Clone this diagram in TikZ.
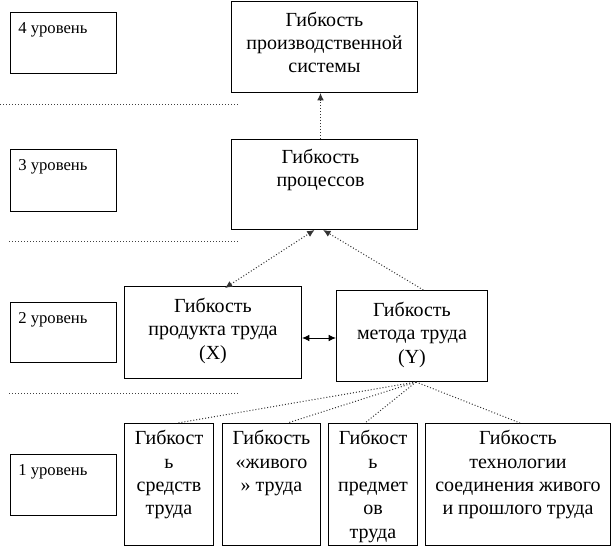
\documentclass[tikz,border=0pt]{standalone}
\usepackage{fontspec}
\setmainfont{Liberation Serif}
\usetikzlibrary{arrows.meta}
\begin{document}
\begin{tikzpicture}[x=0.75pt,y=-0.75pt,
  box/.style={draw, line width=0.75pt, anchor=north west, inner sep=0pt},
  txt/.style={anchor=north, inner sep=0pt, align=center, font=\fontsize{15}{17.5}\selectfont},
  lvltxt/.style={anchor=north west, inner sep=0pt, font=\fontsize{12.5}{14}\selectfont},
  dotline/.style={line width=0.75pt, black!75, dash pattern=on 0.75pt off 1.5pt},
  conn/.style={line width=0.75pt, black!80, dash pattern=on 0.75pt off 1.5pt},
  tip/.style={-{Latex[length=5.5pt,width=5pt]}},
  bitip/.style={{Latex[length=5.5pt,width=5pt]}-{Latex[length=5.5pt,width=5pt]}}
]
\useasboundingbox (0,0) rectangle (611,546);

% level boxes
\node[box, minimum width=106*0.75pt, minimum height=61*0.75pt] (L4) at (10,12) {};
\node[box, minimum width=106*0.75pt, minimum height=62*0.75pt] (L3) at (10,149) {};
\node[box, minimum width=106*0.75pt, minimum height=60*0.75pt] (L2) at (10,302) {};
\node[box, minimum width=106*0.75pt, minimum height=61*0.75pt] (L1) at (10,454) {};
\node[lvltxt] (L4t) at ([xshift=6pt,yshift=-7.5pt]L4.north west) {4 уровень};
\node[lvltxt] (L3t) at ([xshift=6pt,yshift=-8pt]L3.north west) {3 уровень};
\node[lvltxt] (L2t) at ([xshift=6pt,yshift=-8pt]L2.north west) {2 уровень};
\node[lvltxt] (L1t) at ([xshift=6pt,yshift=-8pt]L1.north west) {1 уровень};

% separators
\coordinate (d1a) at (0,104);   \coordinate (d1b) at (238,104);
\coordinate (d2a) at (9,241);   \coordinate (d2b) at (238,241);
\coordinate (d3a) at (9,393);   \coordinate (d3b) at (240,393);
\draw[dotline] (d1a) -- (d1b);
\draw[dotline] (d2a) -- (d2b);
\draw[dotline] (d3a) -- (d3b);

% main boxes
\node[box, minimum width=186*0.75pt, minimum height=91*0.75pt] (S) at (231,1) {};
\node[box, minimum width=186*0.75pt, minimum height=90*0.75pt] (P) at (231,139) {};
\node[box, minimum width=177*0.75pt, minimum height=92*0.75pt] (X) at (124,286) {};
\node[box, minimum width=151*0.75pt, minimum height=91*0.75pt] (Y) at (336,290) {};
\node[box, minimum width=89*0.75pt, minimum height=122*0.75pt] (B1) at (124,423) {};
\node[box, minimum width=98*0.75pt, minimum height=122*0.75pt] (B2) at (222,423) {};
\node[box, minimum width=89*0.75pt, minimum height=122*0.75pt] (B3) at (328,423) {};
\node[box, minimum width=185*0.75pt, minimum height=122*0.75pt] (B4) at (425,423) {};

\node[txt] (St) at ([yshift=-8pt]S.north) {Гибкость\\производственной\\системы};
\node[txt] (Pt) at ([xshift=-3pt,yshift=-7.5pt]P.north) {Гибкость\\процессов};
\node[txt] (Xt) at ([yshift=-9pt]X.north) {Гибкость\\продукта труда\\(X)};
\node[txt] (Yt) at ([yshift=-9pt]Y.north) {Гибкость\\метода труда\\(Y)};
\node[txt] (B1t) at ([yshift=-5.5pt]B1.north) {Гибкост\\ь\\средств\\труда};
\node[txt] (B2t) at ([yshift=-5.5pt]B2.north) {Гибкость\\«живого\\» труда};
\node[txt] (B3t) at ([yshift=-5.5pt]B3.north) {Гибкост\\ь\\предмет\\ов\\труда};
\node[txt] (B4t) at ([yshift=-5.5pt]B4.north) {Гибкость\\технологии\\соединения живого\\и прошлого труда};

% connectors
\draw[conn, tip] ([xshift=-3pt]P.north) -- ([xshift=-3pt]S.south);
\draw[conn, bitip] ([xshift=9pt,yshift=-1.5pt]X.north) -- ([xshift=-7.5pt]P.south);
\draw[conn, tip] ([xshift=8.5pt]Y.north) -- ([xshift=-1pt]P.south);
\draw[line width=0.75pt, bitip] (X.east |- 0,338) -- (Y.west |- 0,338);
\coordinate (Yb) at ([xshift=3pt]Y.south);
\draw[conn] (Yb) -- ([xshift=6.5pt]B1.north);
\draw[conn] (Yb) -- ([xshift=12pt]B2.north);
\draw[conn] (Yb) -- ([xshift=-6pt]B3.north);
\draw[conn] (Yb) -- ([xshift=1.5pt]B4.north);
\end{tikzpicture}
\end{document}
